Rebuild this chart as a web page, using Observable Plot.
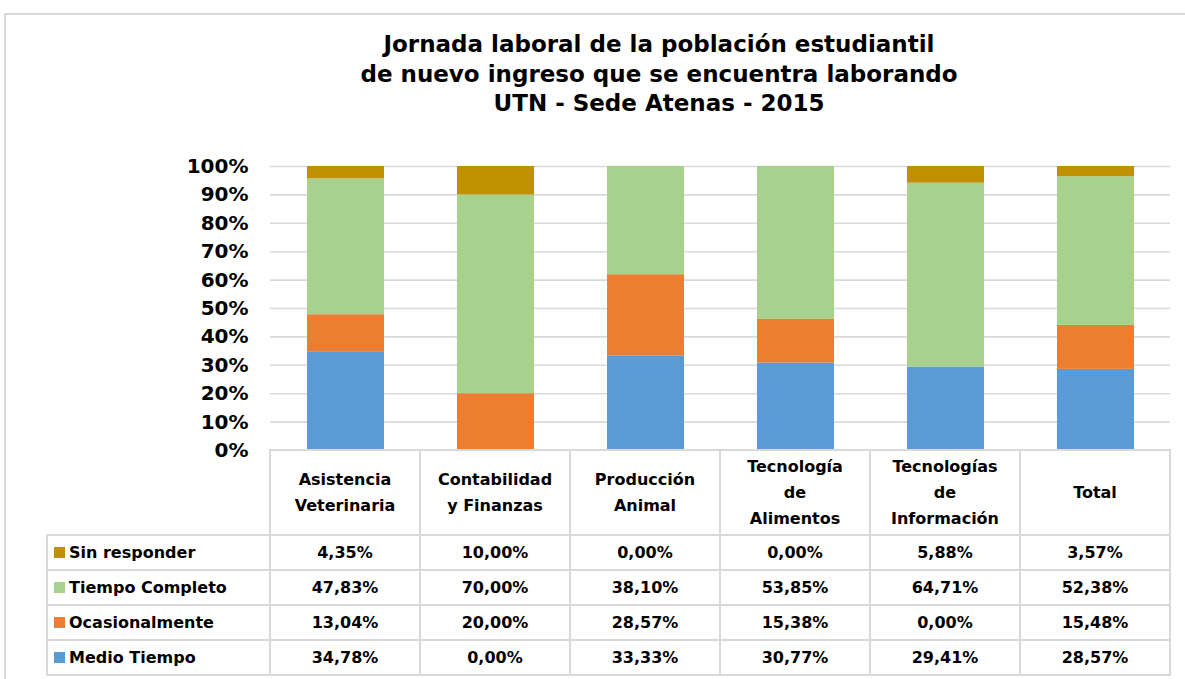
<!DOCTYPE html>
<html><head><meta charset="utf-8">
<script src="https://cdn.jsdelivr.net/npm/d3@7"></script>
<script src="https://cdn.jsdelivr.net/npm/@observablehq/plot@0.6"></script>
<style>
body{margin:0;background:#fff;}
#root{position:relative;width:1185px;height:679px;overflow:hidden;font-family:"DejaVu Sans",sans-serif;font-weight:bold;color:#000;}
#frame{position:absolute;left:4px;top:13px;width:1200px;height:700px;border:2px solid #d9d9d9;box-sizing:border-box;}
#title{position:absolute;left:309px;width:700px;top:30px;text-align:center;font-size:23px;line-height:29.5px;}
#chart{position:absolute;left:0;top:150px;}
#chart svg{overflow:visible;}
table{position:absolute;left:46px;top:449px;border-collapse:collapse;table-layout:fixed;font-size:16px;}
td{border:2px solid #d9d9d9;text-align:center;padding:0;line-height:26px;}
td.lg{text-align:left;padding-left:6px;white-space:nowrap;}
td.blank{border-top:none;border-left:none;}
.sw{display:inline-block;width:11px;height:11px;margin-right:4px;vertical-align:0px;}
</style>
</head><body>
<div id="root">
  <div id="frame"></div>
  <div id="title">Jornada laboral de la población estudiantil<br>de nuevo ingreso que se encuentra laborando<br>UTN - Sede Atenas - 2015</div>
  <div id="chart"></div>
</div>
<script>
const categories = ["Asistencia Veterinaria","Contabilidad y Finanzas","Producción Animal","Tecnología de Alimentos","Tecnologías de Información","Total"];
const headerLabels = [["Asistencia","Veterinaria"],["Contabilidad","y Finanzas"],["Producción","Animal"],["Tecnología","de","Alimentos"],["Tecnologías","de","Información"],["Total"]];
const series = ["Medio Tiempo","Ocasionalmente","Tiempo Completo","Sin responder"];
const colors = ["#5B9BD5","#ED7D31","#A9D18E","#BF9000"];
const medioTiempo = [34.78, 0.00, 33.33, 30.77, 29.41, 28.57];
const ocasionalmente = [13.04, 20.00, 28.57, 15.38, 0.00, 15.48];
const tiempoCompleto = [47.83, 70.00, 38.10, 53.85, 64.71, 52.38];
const sinResponder = [4.35, 10.00, 0.00, 0.00, 5.88, 3.57];
const yTicks = [0,10,20,30,40,50,60,70,80,90,100];

const valuesBySeries = [medioTiempo, ocasionalmente, tiempoCompleto, sinResponder];
const rows = [];
series.forEach((s, si) => categories.forEach((c, ci) => rows.push({cat: c, series: s, value: valuesBySeries[si][ci]})));

const chart = Plot.plot({
  width: 1185, height: 312,
  marginLeft: 270, marginRight: 15, marginTop: 16, marginBottom: 12,
  style: {fontFamily: '"DejaVu Sans", sans-serif', fontSize: "20px", fontWeight: "bold", color: "#000", background: "transparent"},
  x: {domain: categories, axis: null, paddingInner: 0.487, paddingOuter: 0.2435},
  y: {domain: [0, 100], label: null, ticks: yTicks, tickFormat: d => d + "%", tickSize: 0, tickPadding: 22},
  color: {domain: series, range: colors},
  marks: [
    Plot.ruleY(yTicks.filter(d => d > 0), {stroke: "#d9d9d9", strokeWidth: 1.6}),
    Plot.barY(rows, {x: "cat", y: "value", fill: "series", order: null})
  ]
});
document.getElementById("chart").appendChild(chart);

// data table below the chart
const fmt = v => v.toFixed(2).replace(".", ",") + "%";
const root = d3.select("#root");
const table = root.append("table");
const cg = table.append("colgroup");
cg.append("col").style("width", "223px");
categories.forEach(() => cg.append("col").style("width", "150px"));
const hr = table.append("tr").style("height", "85px");
hr.append("td").attr("class", "blank");
headerLabels.forEach(lines => hr.append("td").html(lines.join("<br>")));
const order = [3, 2, 1, 0];
order.forEach(si => {
  const tr = table.append("tr").style("height", "35px");
  const lg = tr.append("td").attr("class", "lg");
  lg.append("span").attr("class", "sw").style("background", colors[si]);
  lg.append("span").text(series[si]);
  valuesBySeries[si].forEach(v => tr.append("td").text(fmt(v)));
});
</script>
</body></html>
